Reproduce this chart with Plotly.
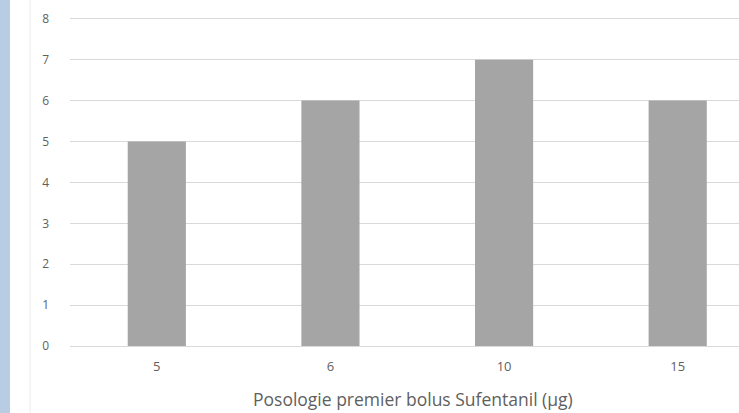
import plotly.graph_objects as go

# Data
doses = ["5", "6", "10", "15"]
counts = [5, 6, 7, 6]
y_ticks = [0, 1, 2, 3, 4, 5, 6, 7, 8]
x_title = "Posologie premier bolus Sufentanil (µg)"

W, H = 739, 413
ML, MR, MT, MB = 70, 0, 0, 67
plot_w = W - ML - MR
plot_h = H - MT - MB


def px_to_paper(px):
    return (px - ML) / plot_w


def py_to_paper(py):
    return (H - MB - py) / plot_h


fig = go.Figure(
    go.Bar(
        x=doses,
        y=counts,
        marker=dict(color="#a5a5a5", line=dict(width=0)),
        width=0.335,
    )
)

fig.update_layout(
    width=W,
    height=H,
    margin=dict(l=ML, r=MR, t=MT, b=MB),
    paper_bgcolor="white",
    plot_bgcolor="white",
    showlegend=False,
    font=dict(family="Open Sans, Liberation Sans, sans-serif", color="#595959"),
    xaxis=dict(
        type="category",
        range=[-0.5, 3.353],
        showgrid=False,
        showline=False,
        ticks="",
        tickfont=dict(size=13, color="#5f5f5f"),
        ticklabelstandoff=11,
    ),
    yaxis=dict(
        range=[0, 8.46],
        tickvals=y_ticks,
        showgrid=True,
        gridcolor="#d9d9d9",
        gridwidth=1,
        zeroline=True,
        zerolinecolor="#d9d9d9",
        zerolinewidth=1,
        showline=False,
        ticks="",
        tickfont=dict(size=12, color="#5f5f5f"),
        ticklabelstandoff=20,
    ),
    annotations=[
        # x-axis title, centred on the full category band
        dict(
            text=x_title,
            xref="paper",
            yref="paper",
            x=px_to_paper(413),
            y=py_to_paper(399),
            xanchor="center",
            yanchor="middle",
            showarrow=False,
            font=dict(size=17.5, color="#5f5f5f"),
        )
    ],
    shapes=[
        # blue band along the left edge
        dict(
            type="rect",
            xref="paper",
            yref="paper",
            x0=px_to_paper(0),
            x1=px_to_paper(10),
            y0=py_to_paper(H),
            y1=1,
            fillcolor="#b8cce4",
            line=dict(width=0),
            layer="below",
        ),
        # faint chart-area border
        dict(
            type="line",
            xref="paper",
            yref="paper",
            x0=px_to_paper(30),
            x1=px_to_paper(30),
            y0=py_to_paper(H),
            y1=1,
            line=dict(color="#ececec", width=1),
            layer="below",
        ),
    ],
)

fig.write_html("out.html")
